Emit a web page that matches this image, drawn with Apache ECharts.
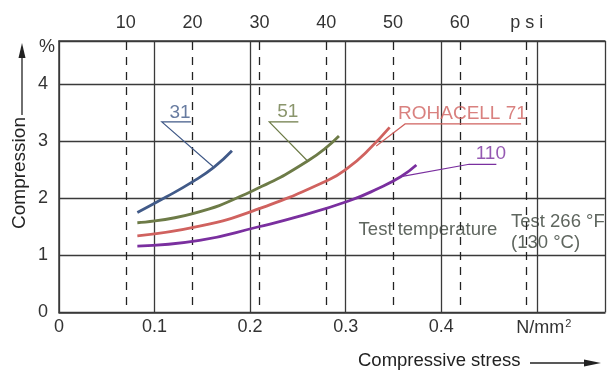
<!DOCTYPE html>
<html>
<head>
<meta charset="utf-8">
<script src="https://cdn.jsdelivr.net/npm/echarts@6/dist/echarts.min.js"></script>
<style>
  html, body { margin: 0; padding: 0; background: #fff; }
  #chart { width: 608px; height: 371px; }
</style>
</head>
<body>
<div id="chart"></div>
<script>
// compressive stress (N/mm2) against compression (%) per foam grade
const grades = ['31', '51', 'ROHACELL 71', '110']
const stress31 = [0.082, 0.112, 0.140, 0.162, 0.181]
const comp31 = [1.75, 2.02, 2.29, 2.54, 2.83]
const stress51 = [0.082, 0.140, 0.200, 0.261, 0.293]
const comp51 = [1.57, 1.73, 2.11, 2.66, 3.09]
const stress71 = [0.082, 0.147, 0.205, 0.282, 0.303, 0.323, 0.346]
const comp71 = [1.34, 1.51, 1.79, 2.32, 2.54, 2.83, 3.24]
const stress110 = [0.082, 0.147, 0.209, 0.251, 0.303, 0.334, 0.358, 0.374]
const comp110 = [1.16, 1.26, 1.50, 1.68, 1.95, 2.17, 2.38, 2.58]

// axis ticks
const stressTicks = [0, 0.1, 0.2, 0.3, 0.4, 0.5]
const stressLabels = ['0', '0.1', '0.2', '0.3', '0.4', '{u|N/mm}{s|2}']
const psiTicks = [10, 20, 30, 40, 50, 60, 70]
const psiLabels = ['10', '20', '30', '40', '50', '60', 'p s i']
const compTicks = [0, 1, 2, 3, 4]
const compLabels = ['0', '1', '2', '3', '4']

// grade labels: text anchor, leader polyline (stress, compression)
const labelAt = [[0.1267, 3.49], [0.2394, 3.515], [0.4222, 3.487], [0.4519, 2.774]]
const leaders = [
  [[0.1381, 3.335], [0.1076, 3.335], [0.1620, 2.541]],
  [[0.2505, 3.335], [0.2200, 3.335], [0.2609, 2.639]],
  [[0.4836, 3.300], [0.3622, 3.300], [0.3320, 2.914]],
  [[0.4577, 2.594], [0.4292, 2.594], [0.3580, 2.377]],
]

const colors = ['#415a88', '#6d7b47', '#d0625f', '#7a2f9f']
const font = "'Liberation Sans', Arial, sans-serif"
const ink = '#3a3a3a'
const noteColor = '#5f665f'

function pick(ticks, labels) {
  return (v) => {
    const i = ticks.findIndex((t) => Math.abs(t - v) < 1e-6)
    return i < 0 ? '' : labels[i]
  }
}

const zip = (xs, ys) => xs.map((x, i) => [x, ys[i]])
const curves = [zip(stress31, comp31), zip(stress51, comp51), zip(stress71, comp71), zip(stress110, comp110)]

const chart = echarts.init(document.getElementById('chart'), null, { renderer: 'canvas' })

chart.setOption({
  animation: false,
  textStyle: { fontFamily: font },
  grid: { left: 59, top: 41, width: 549, height: 271.4 },
  xAxis: [
    {
      type: 'value',
      position: 'bottom',
      min: 0,
      max: 0.5714,
      interval: 0.1,
      axisLine: { show: true, lineStyle: { color: ink, width: 1.5 } },
      axisTick: { show: false },
      splitLine: { show: true, lineStyle: { color: ink, width: 1.3 } },
      axisLabel: {
        margin: 6,
        fontSize: 18,
        color: '#333',
        formatter: pick(stressTicks, stressLabels),
        rich: {
          u: { fontSize: 18, color: '#333', padding: [0, 0, 0, 14] },
          s: { fontSize: 11, color: '#333', padding: [0, 0, 9, 1] },
        },
      },
    },
    {
      type: 'value',
      position: 'top',
      min: 0,
      max: 81.73,
      interval: 10,
      axisLine: { show: true, lineStyle: { color: ink, width: 1.5 } },
      axisTick: { show: false },
      splitLine: { show: false },
      axisLabel: { margin: 9, fontSize: 18, color: '#333', formatter: pick(psiTicks, psiLabels) },
    },
  ],
  yAxis: {
    type: 'value',
    min: 0,
    max: 4.753,
    interval: 1,
    axisLine: { show: true, lineStyle: { color: ink, width: 1.5 } },
    axisTick: { show: false },
    splitLine: { show: true, lineStyle: { color: ink, width: 1.3 } },
    axisLabel: { margin: 11, fontSize: 18, color: '#333', formatter: pick(compTicks, compLabels) },
  },
  series: [
    {
      type: 'lines',
      coordinateSystem: 'cartesian2d',
      xAxisIndex: 1,
      silent: true,
      lineStyle: { color: '#222', width: 1.3, type: [8, 7], opacity: 1 },
      data: psiTicks.map((p) => ({ coords: [[p, 0.13], [p, 4.753]] })),
    },
    ...curves.map((pts, i) => ({
      type: 'line',
      name: grades[i],
      data: pts,
      smooth: true,
      showSymbol: false,
      silent: true,
      lineStyle: { color: colors[i], width: 2.8 },
    })),
    {
      type: 'lines',
      coordinateSystem: 'cartesian2d',
      polyline: true,
      silent: true,
      data: leaders.map((coords, i) => ({
        coords,
        lineStyle: { color: colors[i], width: 1.2, opacity: 1 },
      })),
    },
    {
      type: 'scatter',
      symbolSize: 0,
      silent: true,
      data: labelAt.map((v, i) => ({
        name: grades[i],
        value: v,
        label: {
          show: true,
          position: 'inside',
          formatter: '{b}',
          fontSize: 19,
          color: colors[i],
        },
      })),
    },
  ],
  graphic: [
    { type: 'text', left: 39, top: 38, style: { text: '%', fill: '#333', font: '18px ' + font } },
    // y axis title with arrow
    {
      type: 'text',
      x: 20,
      y: 173,
      rotation: Math.PI / 2,
      style: { text: 'Compression', fill: '#222', font: '19px ' + font, align: 'center', verticalAlign: 'middle' },
    },
    { type: 'line', shape: { x1: 22, y1: 55, x2: 22, y2: 115 }, style: { stroke: '#222', lineWidth: 1.3 } },
    { type: 'polygon', shape: { points: [[22, 43], [18.5, 58], [25.5, 58]] }, style: { fill: '#222' } },
    // x axis title with arrow
    {
      type: 'text',
      x: 358,
      y: 361,
      style: { text: 'Compressive stress', fill: '#222', font: '18.5px ' + font, align: 'left', verticalAlign: 'middle' },
    },
    { type: 'line', shape: { x1: 530, y1: 363, x2: 588, y2: 363 }, style: { stroke: '#222', lineWidth: 1.3 } },
    { type: 'polygon', shape: { points: [[601, 363], [584, 359.5], [584, 366.5]] }, style: { fill: '#222' } },
    // test condition notes
    {
      type: 'text',
      x: 428,
      y: 230,
      style: { text: 'Test temperature', fill: noteColor, font: '18.5px ' + font, align: 'center', verticalAlign: 'middle' },
    },
    {
      type: 'text',
      x: 511,
      y: 222,
      style: { text: 'Test 266 °F', fill: noteColor, font: '18.5px ' + font, align: 'left', verticalAlign: 'middle' },
    },
    {
      type: 'text',
      x: 511,
      y: 243,
      style: { text: '(130 °C)', fill: noteColor, font: '18.5px ' + font, align: 'left', verticalAlign: 'middle' },
    },
  ],
})
</script>
</body>
</html>
